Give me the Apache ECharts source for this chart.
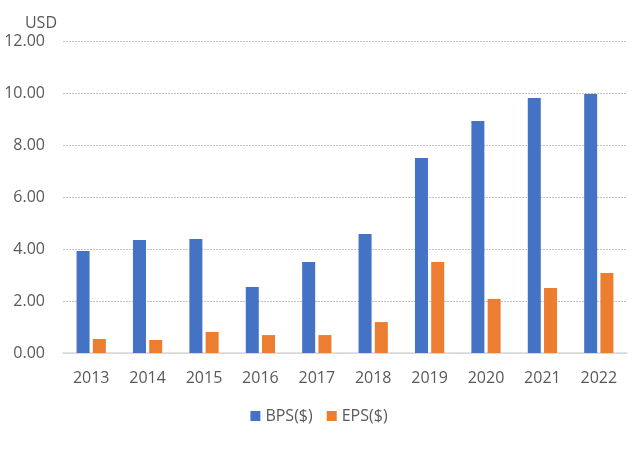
<!DOCTYPE html>
<html>
<head>
<meta charset="utf-8">
<script src="https://cdn.jsdelivr.net/npm/echarts@6/dist/echarts.min.js"></script>
<style>html,body{margin:0;padding:0;background:#fff;}#c{width:638px;height:450px;}</style>
</head>
<body>
<div id="c"></div>
<script>
const years = ['2013','2014','2015','2016','2017','2018','2019','2020','2021','2022'];
const bps = [3.92, 4.35, 4.38, 2.54, 3.50, 4.58, 7.50, 8.92, 9.81, 9.96];
const eps = [0.54, 0.50, 0.81, 0.69, 0.69, 1.19, 3.50, 2.08, 2.50, 3.08];
const seriesNames = ['BPS($)', 'EPS($)'];
const unit = 'USD';

const font = '"Open Sans", "Liberation Sans", sans-serif';
const chart = echarts.init(document.getElementById('c'), null, {renderer: 'canvas'});
chart.setOption({
  animation: false,
  textStyle: {fontFamily: font},
  grid: {left: 63, right: 11, top: 41, bottom: 97},
  legend: {
    data: seriesNames,
    bottom: 21,
    left: 'center',
    itemWidth: 10, itemHeight: 10, itemGap: 14,
    icon: 'rect',
    textStyle: {color: '#595959', fontSize: 16, fontFamily: font}
  },
  xAxis: {
    type: 'category',
    data: years,
    axisLine: {show: true, lineStyle: {color: '#D9D9D9', width: 1.5}},
    axisTick: {show: false},
    axisLabel: {color: '#595959', fontSize: 16, margin: 17, fontFamily: font}
  },
  yAxis: {
    type: 'value',
    min: 0, max: 12, interval: 2,
    name: unit,
    nameLocation: 'end',
    nameGap: 10,
    nameTextStyle: {color: '#595959', fontSize: 16, align: 'right', padding: [0, 6, 0, 0], fontFamily: font},
    axisLine: {show: false},
    axisTick: {show: false},
    axisLabel: {color: '#595959', fontSize: 16, margin: 18, formatter: v => v.toFixed(2), fontFamily: font},
    splitLine: {lineStyle: {color: '#C4C4C4', width: 1.2, type: [2, 1]}}
  },
  series: [
    {name: seriesNames[0], type: 'bar', data: bps, barWidth: 13, barGap: '25%', itemStyle: {color: '#4472C4'}},
    {name: seriesNames[1], type: 'bar', data: eps, barWidth: 13, itemStyle: {color: '#ED7D31'}}
  ]
});
</script>
</body>
</html>
